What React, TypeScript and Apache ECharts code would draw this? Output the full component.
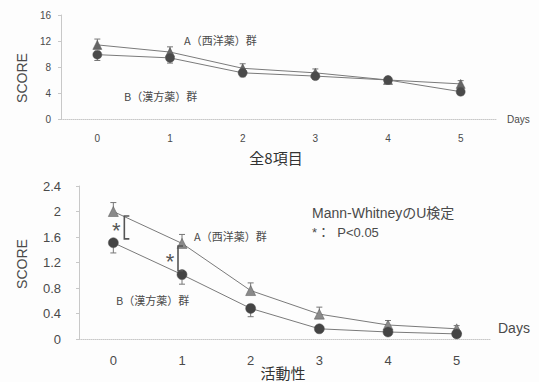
import React, { useEffect, useRef } from "react";
import * as echarts from "echarts";

// Days after start
const days = ["0", "1", "2", "3", "4", "5"];

// 全8項目 (total of all 8 items)
const totalA = [11.4, 10.3, 7.8, 7.1, 6.0, 5.4];
const totalAErr = [0.9, 0.8, 0.7, 0.6, 0.4, 0.5];
const totalB = [9.9, 9.4, 7.1, 6.6, 6.0, 4.2];
const totalBErr = [0.9, 0.8, 0.6, 0.5, 0.4, 0.5];

// 活動性 (activity)
const actA = [2.0, 1.5, 0.76, 0.39, 0.22, 0.16];
const actAErr = [0.14, 0.14, 0.12, 0.11, 0.07, 0.05];
const actB = [1.51, 1.01, 0.48, 0.16, 0.11, 0.08];
const actBErr = [0.16, 0.15, 0.13, 0.05, 0.05, 0.04];

// Significant differences (Mann-Whitney U, P<0.05): [day index, low, high]
const sigBrackets = [
  [0, 1.57, 1.93],
  [1, 1.07, 1.46],
];
const bracketShift = [11, -4];

const topTicks = { min: 0, max: 16, interval: 4 };
const bottomTicks = { min: 0, max: 2.4, interval: 0.4 };

const TEXT = "#4a4a4a";
const LINE = "#7a7a7a";
const FONT = "'Liberation Sans', 'Noto Sans CJK JP', sans-serif";
const JP = "'Noto Sans CJK JP', 'Liberation Sans', sans-serif";

function errorSeries(values: number[], errs: number[], up: boolean, axis: number) {
  return {
    type: "custom",
    xAxisIndex: axis,
    yAxisIndex: axis,
    z: 1,
    data: values.map((v, i) => [i, v, up ? v + errs[i] : v - errs[i]]),
    renderItem: (params: any, api: any) => {
      const a = api.coord([api.value(0), api.value(1)]);
      const b = api.coord([api.value(0), api.value(2)]);
      return {
        type: "group",
        children: [
          { type: "line", shape: { x1: a[0], y1: a[1], x2: b[0], y2: b[1] }, style: { stroke: "#777", lineWidth: 1 } },
          { type: "line", shape: { x1: b[0] - 3, y1: b[1], x2: b[0] + 3, y2: b[1] }, style: { stroke: "#777", lineWidth: 1 } },
        ],
      };
    },
  };
}

function lineSeries(values: number[], symbol: string, color: string, size: number, axis: number) {
  return {
    type: "line",
    xAxisIndex: axis,
    yAxisIndex: axis,
    data: values,
    symbol,
    symbolSize: size,
    z: 3,
    lineStyle: { color: LINE, width: 1 },
    itemStyle: { color, borderColor: "#555", borderWidth: 0.5 },
  };
}

export default function App() {
  const ref = useRef<HTMLDivElement>(null);

  useEffect(() => {
    if (!ref.current) return;
    const chart = echarts.init(ref.current, null, { renderer: "svg" });

    const xAxisBase = {
      type: "category",
      data: days,
      boundaryGap: true,
      axisLine: { lineStyle: { color: "#c8c8c8", type: "dotted" } },
      axisTick: { show: false },
      nameLocation: "end",
    };
    const yAxisBase = {
      type: "value",
      axisLine: { show: true, lineStyle: { color: "#c8c8c8" } },
      axisTick: { show: true, length: 3, lineStyle: { color: "#c8c8c8" } },
      splitLine: { show: false },
    };

    chart.setOption({
      animation: false,
      backgroundColor: "#fdfdfd",
      textStyle: { fontFamily: FONT },
      grid: [
        { left: 61, width: 436, top: 15, height: 104 },
        { left: 79, width: 412, top: 186, height: 153 },
      ],
      xAxis: [
        {
          ...xAxisBase,
          gridIndex: 0,
          name: "Days",
          nameGap: 10,
          nameTextStyle: { color: TEXT, fontFamily: FONT, fontSize: 10, verticalAlign: "middle" },
          axisLabel: { color: TEXT, fontSize: 10, margin: 14 },
        },
        {
          ...xAxisBase,
          gridIndex: 1,
          name: "Days",
          nameGap: 7,
          nameTextStyle: { color: TEXT, fontFamily: FONT, fontSize: 14, verticalAlign: "bottom", padding: [0, 0, 4, 0] },
          axisLabel: { color: TEXT, fontSize: 13, margin: 15 },
        },
      ],
      yAxis: [
        { ...yAxisBase, gridIndex: 0, ...topTicks, axisLabel: { color: TEXT, fontSize: 10, margin: 10 } },
        { ...yAxisBase, gridIndex: 1, ...bottomTicks, axisLabel: { color: TEXT, fontSize: 13, margin: 18 } },
      ],
      series: [
        errorSeries(totalA, totalAErr, true, 0),
        errorSeries(totalB, totalBErr, false, 0),
        lineSeries(totalA, "triangle", "#666", 9, 0),
        lineSeries(totalB, "circle", "#4a4a4a", 9, 0),
        errorSeries(actA, actAErr, true, 1),
        errorSeries(actB, actBErr, false, 1),
        lineSeries(actA, "triangle", "#8a8a8a", 10, 1),
        lineSeries(actB, "circle", "#444", 10, 1),
        {
          type: "custom",
          xAxisIndex: 1,
          yAxisIndex: 1,
          z: 4,
          data: sigBrackets,
          renderItem: (params: any, api: any) => {
            const dx = bracketShift[params.dataIndex];
            const lo = api.coord([api.value(0), api.value(1)]);
            const hi = api.coord([api.value(0), api.value(2)]);
            const x = lo[0] + dx;
            return {
              type: "group",
              children: [
                {
                  type: "polyline",
                  shape: { points: [[x + 5, hi[1]], [x, hi[1]], [x, lo[1]], [x + 5, lo[1]]] },
                  style: { stroke: "#555", lineWidth: 1.6, fill: "none" },
                },
                {
                  type: "text",
                  x: x - 8,
                  y: (lo[1] + hi[1]) / 2 + 3,
                  style: { text: "*", fontSize: 22, fill: "#555", align: "center", verticalAlign: "middle", fontFamily: FONT },
                },
              ],
            };
          },
        },
      ],
      graphic: [
        { type: "text", x: 22, y: 78, rotation: Math.PI / 2, style: { text: "SCORE", fontSize: 14, fill: TEXT, align: "center", verticalAlign: "middle", fontFamily: FONT } },
        { type: "text", x: 22, y: 264, rotation: Math.PI / 2, style: { text: "SCORE", fontSize: 14, fill: TEXT, align: "center", verticalAlign: "middle", fontFamily: FONT } },
        { type: "text", x: 184, y: 40, style: { text: "A（西洋薬）群", fontSize: 11, fill: TEXT, verticalAlign: "middle", fontFamily: JP } },
        { type: "text", x: 124, y: 96, style: { text: "B（漢方薬）群", fontSize: 11, fill: TEXT, verticalAlign: "middle", fontFamily: JP } },
        { type: "text", x: 276, y: 157, style: { text: "全8項目", fontSize: 15, fill: "#333", align: "center", verticalAlign: "middle", fontFamily: JP } },
        { type: "text", x: 194, y: 236, style: { text: "A（西洋薬）群", fontSize: 11, fill: TEXT, verticalAlign: "middle", fontFamily: JP } },
        { type: "text", x: 116, y: 300, style: { text: "B（漢方薬）群", fontSize: 11, fill: TEXT, verticalAlign: "middle", fontFamily: JP } },
        { type: "text", x: 312, y: 213, style: { text: "Mann-WhitneyのU検定", fontSize: 14, fill: TEXT, verticalAlign: "middle", fontFamily: FONT } },
        { type: "text", x: 312, y: 232, style: { text: "*：  P<0.05", fontSize: 13, fill: TEXT, verticalAlign: "middle", fontFamily: FONT } },
        { type: "text", x: 283, y: 372, style: { text: "活動性", fontSize: 15, fill: "#333", align: "center", verticalAlign: "middle", fontFamily: JP } },
      ],
    });

    return () => chart.dispose();
  }, []);

  return <div ref={ref} style={{ width: 539, height: 382, position: "absolute", left: 0, top: 0 }} />;
}
